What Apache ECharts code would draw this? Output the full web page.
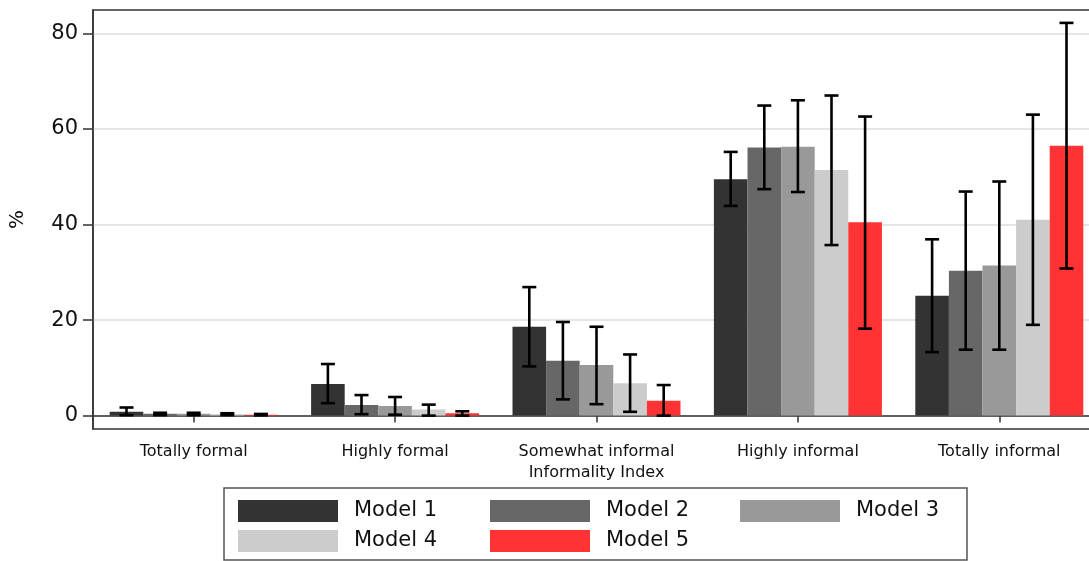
<!DOCTYPE html>
<html>
<head>
<meta charset="utf-8">
<script src="https://cdn.jsdelivr.net/npm/echarts@6/dist/echarts.min.js"></script>
<style>html,body{margin:0;padding:0;background:#fff;overflow:hidden;}#chart{width:1089px;height:561px;}</style>
</head>
<body>
<div id="chart"></div>
<script>
const categories = ['Totally formal', 'Highly formal', 'Somewhat informal', 'Highly informal', 'Totally informal'];
const models = ['Model 1', 'Model 2', 'Model 3', 'Model 4', 'Model 5'];
const yTicks = [0, 20, 40, 60, 80];

const model1 = [0.8, 6.6, 18.6, 49.5, 25.1];
const model1Low = [0.1, 2.6, 10.3, 43.9, 13.3];
const model1High = [1.7, 10.8, 26.9, 55.2, 36.9];

const model2 = [0.4, 2.2, 11.5, 56.1, 30.3];
const model2Low = [0.1, 0.3, 3.4, 47.4, 13.8];
const model2High = [0.6, 4.3, 19.6, 64.9, 46.9];

const model3 = [0.4, 2.0, 10.6, 56.3, 31.4];
const model3Low = [0.1, 0.2, 2.4, 46.8, 13.8];
const model3High = [0.6, 3.9, 18.6, 66.0, 49.0];

const model4 = [0.3, 1.3, 6.8, 51.4, 41.0];
const model4Low = [0.1, 0.0, 0.8, 35.7, 19.0];
const model4High = [0.5, 2.3, 12.8, 67.0, 63.0];

const model5 = [0.2, 0.5, 3.1, 40.5, 56.5];
const model5Low = [0.05, 0.0, 0.0, 18.2, 30.8];
const model5High = [0.35, 0.9, 6.4, 62.6, 82.2];

const values = [model1, model2, model3, model4, model5];
const lows = [model1Low, model2Low, model3Low, model4Low, model5Low];
const highs = [model1High, model2High, model3High, model4High, model5High];
const colors = ['#333333', '#676767', '#999999', '#cccccc', '#ff3333'];

const FONT = 'DejaVu Sans';
const BAR_W = 33.6;

const series = [];
models.forEach((m, i) => {
  series.push({
    name: m,
    type: 'bar',
    data: values[i],
    barWidth: BAR_W,
    barGap: '0%',
    itemStyle: { color: colors[i] },
    z: 2
  });
});
models.forEach((m, i) => {
  series.push({
    name: m + ' CI',
    type: 'custom',
    data: categories.map((c, k) => [k, lows[i][k], highs[i][k]]),
    encode: { x: 0, y: [1, 2] },
    z: 5,
    silent: true,
    renderItem: function (params, api) {
      const k = api.value(0);
      const lo = api.coord([k, api.value(1)]);
      const hi = api.coord([k, api.value(2)]);
      const x = lo[0] + (i - 2) * BAR_W;
      const cap = 7;
      const st = { stroke: '#000', lineWidth: 2.6 };
      return {
        type: 'group',
        children: [
          { type: 'line', shape: { x1: x, y1: lo[1], x2: x, y2: hi[1] }, style: st },
          { type: 'line', shape: { x1: x - cap, y1: hi[1], x2: x + cap, y2: hi[1] }, style: st },
          { type: 'line', shape: { x1: x - cap, y1: lo[1], x2: x + cap, y2: lo[1] }, style: st }
        ]
      };
    }
  });
});

function legendColumn(names, left) {
  return {
    data: names,
    left: left,
    top: 500,
    padding: 0,
    orient: 'vertical',
    icon: 'rect',
    itemWidth: 100,
    itemHeight: 22,
    itemGap: 8,
    textStyle: { fontFamily: FONT, fontSize: 21, color: '#111', padding: [0, 0, 0, 11] }
  };
}

const chart = echarts.init(document.getElementById('chart'));
chart.setOption({
  animation: false,
  backgroundColor: '#fff',
  textStyle: { fontFamily: FONT },
  grid: { left: 93, top: 10, width: 1007, height: 419, outerBoundsMode: 'none', containLabel: false, show: true, borderColor: '#333', borderWidth: 1.5, backgroundColor: 'transparent' },
  legend: [
    legendColumn([models[0], models[3]], 238),
    legendColumn([models[1], models[4]], 490),
    legendColumn([models[2]], 740)
  ],
  graphic: [{
    type: 'rect',
    shape: { x: 224, y: 488, width: 743, height: 72 },
    style: { fill: 'none', stroke: '#555', lineWidth: 1.5 },
    silent: true
  }],
  xAxis: {
    type: 'category',
    data: categories,
    boundaryGap: true,
    name: 'Informality Index',
    nameLocation: 'middle',
    nameGap: 33,
    nameTextStyle: { fontFamily: FONT, fontSize: 16, color: '#111' },
    axisLine: { show: true, lineStyle: { color: '#333', width: 1.5 } },
    axisTick: { show: true, alignWithLabel: true, length: 7, lineStyle: { color: '#333', width: 1.5 } },
    axisLabel: { fontFamily: FONT, fontSize: 16, color: '#111', margin: 15, interval: 0 },
    splitLine: { show: false }
  },
  yAxis: {
    type: 'value',
    min: -2.8,
    max: 84.9,
    name: '%',
    nameLocation: 'middle',
    nameGap: 65,
    nameRotate: 90,
    nameTextStyle: { fontFamily: FONT, fontSize: 20, color: '#111' },
    axisLine: { show: true, lineStyle: { color: '#333', width: 1.5 } },
    axisTick: { show: true, length: 10, customValues: yTicks, lineStyle: { color: '#333', width: 1.5 } },
    axisLabel: { fontFamily: FONT, fontSize: 21, color: '#111', margin: 15, customValues: yTicks },
    splitLine: { show: true, lineStyle: { color: '#dddddd', width: 1.5 } }
  },
  series: series
});
</script>
</body>
</html>
